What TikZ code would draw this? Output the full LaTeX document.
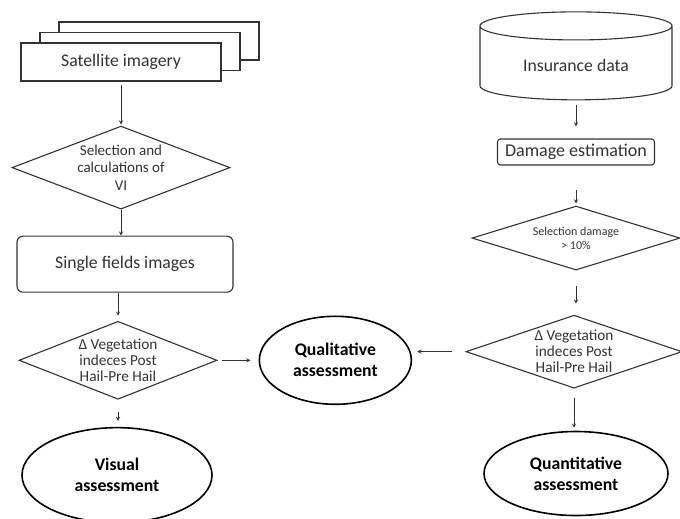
\documentclass[tikz,border=0pt]{standalone}
\usepackage{fontspec}
\setmainfont{Carlito}
\usetikzlibrary{shapes, arrows, positioning, shadows}
\definecolor{FlowGray}{HTML}{333333}

\begin{document}
\begin{tikzpicture}[
			x=1pt, y=1pt,
			node distance=30pt,
			every node/.style={text=FlowGray, align=center},
			box/.style={rectangle, draw=FlowGray, line width=1.1pt, fill=white, inner sep=0pt, font=\fontsize{17.7}{20}\selectfont},
			decision/.style={diamond, draw=FlowGray, line width=1.1pt, inner sep=0pt, font=\fontsize{15.3}{16}\selectfont},
			result/.style={ellipse, draw=black, line width=1.6pt, inner sep=0pt, text=black, font=\fontsize{17.7}{21}\selectfont\bfseries},
			arrow/.style={->, line width=0.9pt, >=stealth, draw=FlowGray}
			]
			\useasboundingbox (0,0) rectangle (680,519);
			
			% Left column
			\node (sat) [box, minimum width=200pt, minimum height=38pt, double copy shadow={shadow xshift=19pt, shadow yshift=10.5pt, draw=FlowGray, fill=white, line width=1.1pt}] at (121,457) {Satellite imagery};
			\node (select) [decision, below=44pt of sat, minimum width=218pt, minimum height=83pt, aspect=2.6, font=\fontsize{15}{17.5}\selectfont] {Selection and\\calculations of\\VI};
			\node (single) [box, below=26pt of select, xshift=4pt, minimum width=216pt, minimum height=56pt, rounded corners=6pt] {Single fields images};
			\node (deltaL) [decision, below=28pt of single, xshift=-7pt, minimum width=198pt, minimum height=78pt, aspect=2.54] {Δ Vegetation\\indeces Post\\Hail-Pre Hail};
			\node (visual) [result, below=27pt of deltaL, xshift=-1pt, minimum width=190pt, minimum height=95pt] {Visual\\assessment};
			
			% Middle
			\node (qual) [result, right=41pt of deltaL, minimum width=152pt, minimum height=88pt] {Qualitative\\assessment};
			
			% Right column
			\node (insurance) [cylinder, shape border rotate=90, draw=FlowGray, line width=1.1pt, aspect=0.25, minimum width=192pt, minimum height=88pt, font=\fontsize{17.7}{20}\selectfont] at (576,454) {Insurance data};
			\node (damage) [box, below=38pt of insurance, minimum width=157pt, minimum height=26pt, rounded corners=3pt, font=\fontsize{18}{20}\selectfont] {Damage estimation};
			\node (seldamage) [decision, below=40pt of damage, minimum width=208pt, minimum height=64pt, aspect=3.25, font=\fontsize{12}{14}\selectfont] {Selection damage\\> 10\%};
			\node (deltaR) [decision, below=44pt of seldamage, xshift=-2pt, minimum width=216pt, minimum height=73pt, aspect=2.96] {Δ Vegetation\\indeces Post\\Hail-Pre Hail};
			\node (quant) [result, below=42pt of deltaR, xshift=2pt, minimum width=184pt, minimum height=84pt] {Quantitative\\assessment};
			
			% Arrows
			\draw[arrow, shorten <=3pt, shorten >=1pt] (sat) -- (select);
			\draw[arrow] (select.south) -- (select.south |- single.north);
			\draw[arrow, shorten >=5pt] (deltaL.north |- single.south) -- (deltaL.north);
			\draw[arrow, shorten <=12pt, shorten >=6pt] (deltaL.south) -- (deltaL.south |- visual.north);
			\draw[arrow, shorten <=4pt, shorten >=8pt] (deltaL.east) -- (qual.west);
			\draw[arrow, shorten <=5pt, shorten >=12pt] (insurance.bottom) -- (damage.north);
			\draw[arrow, shorten <=24pt, shorten >=2pt] (damage.south) -- (seldamage.north);
			\draw[arrow, shorten <=15pt, shorten >=11pt] (seldamage.south) -- (seldamage.south |- deltaR.north);
			\draw[arrow, shorten <=13pt, shorten >=5pt] (deltaR.west) -- (deltaR.west -| qual.east);
			\draw[arrow, shorten <=9pt, shorten >=3pt] (deltaR.south) -- (deltaR.south |- quant.north);
			
		\end{tikzpicture}
\end{document}
